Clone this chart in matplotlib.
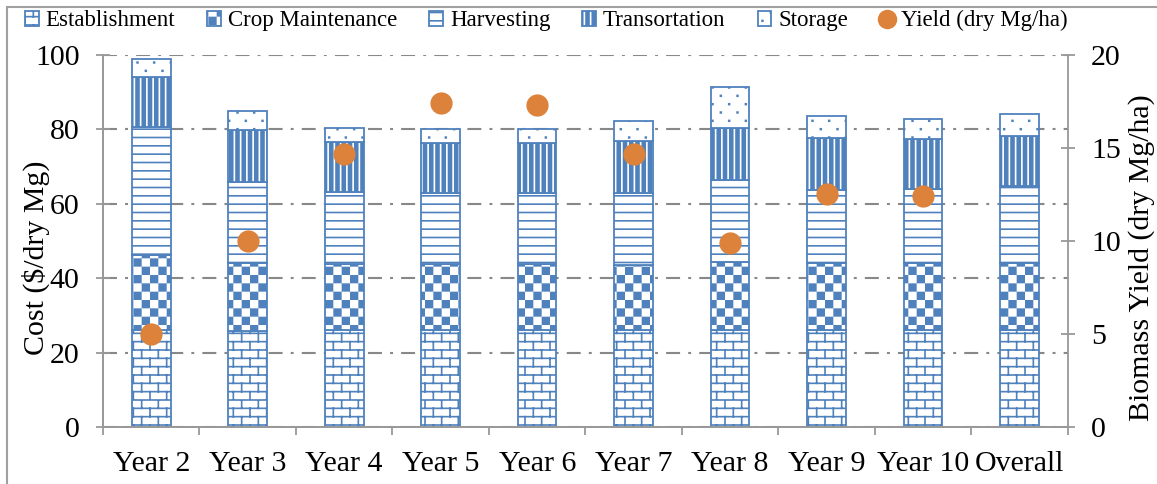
import numpy as np
import matplotlib
matplotlib.use("Agg")
import matplotlib.pyplot as plt
import matplotlib.hatch as mhatch
from matplotlib.path import Path
from matplotlib.patches import Patch, Rectangle
from matplotlib.lines import Line2D

# ---- data ----
categories = ['Year 2', 'Year 3', 'Year 4', 'Year 5', 'Year 6',
              'Year 7', 'Year 8', 'Year 9', 'Year 10', 'Overall']
establishment = [26.1, 25.9, 26.0, 26.0, 26.0, 26.0, 26.0, 26.0, 26.0, 26.0]
crop_maint = [20.1, 18.1, 17.8, 17.8, 17.9, 17.5, 18.4, 18.2, 18.2, 18.2]
harvesting = [34.4, 21.9, 19.5, 19.0, 18.9, 19.5, 22.0, 19.5, 19.7, 20.6]
transport = [13.4, 13.9, 13.2, 13.6, 13.6, 13.9, 13.9, 13.9, 13.5, 13.4]
storage = [4.9, 5.2, 4.0, 3.6, 3.6, 5.4, 11.2, 6.0, 5.3, 5.9]
yield_cats = categories[:9]
yield_vals = [5.0, 10.0, 14.7, 17.4, 17.3, 14.7, 9.9, 12.5, 12.4]

BLUE = '#4f81bd'
ORANGE = '#dc823b'
GRID = '#888888'
SPINE = '#999999'
HLW = 1.2  # hatch line width (pt)


# ---- excel-like fill patterns as extra hatch types ----
class BrickHatch(mhatch.HatchPatternBase):
    # 'o' -> brick wall
    def __init__(self, hatch, density):
        n = hatch.count('o')
        self.rows = 12 * n
        self.cols = self.rows // 2
        if self.rows:
            self.num_vertices = (self.rows + 1) * 2 + \
                (self.rows // 2) * (self.cols + 1) * 2 + (self.rows // 2) * self.cols * 2
        else:
            self.num_vertices = 0

    def set_vertices_and_codes(self, vertices, codes):
        h = 1.0 / self.rows
        w = 1.0 / self.cols
        pts = []
        for k in range(self.rows + 1):
            pts += [(0.0, k * h), (1.0, k * h)]
        for k in range(self.rows):
            if k % 2 == 0:
                xs = [j * w for j in range(self.cols + 1)]
            else:
                xs = [j * w + w / 2 for j in range(self.cols)]
            for x in xs:
                pts += [(x, k * h), (x, (k + 1) * h)]
        vertices[:] = pts
        codes[0::2] = Path.MOVETO
        codes[1::2] = Path.LINETO


class CheckerHatch(mhatch.HatchPatternBase):
    # 'O' -> checkerboard
    def __init__(self, hatch, density):
        self.n = 12 * hatch.count('O')
        self.num_vertices = (self.n * self.n // 2) * 5

    def set_vertices_and_codes(self, vertices, codes):
        n = self.n
        s = 1.0 / n
        d = HLW / 72.0 / 2
        pts, cds = [], []
        for i in range(n):
            for j in range(n):
                if (i + j) % 2:
                    continue
                x0, y0 = i * s + d, j * s + d
                x1, y1 = (i + 1) * s - d, (j + 1) * s - d
                pts += [(x0, y0), (x1, y0), (x1, y1), (x0, y1), (x0, y0)]
                cds += [Path.MOVETO, Path.LINETO, Path.LINETO, Path.LINETO, Path.CLOSEPOLY]
        vertices[:] = pts
        codes[:] = cds


class DotHatch(mhatch.HatchPatternBase):
    # '*' -> sparse staggered dots
    def __init__(self, hatch, density):
        n = hatch.count('*')
        self.rows = 12 * n
        self.cols = 6 * n
        self.num_vertices = self.rows * self.cols * 5

    def set_vertices_and_codes(self, vertices, codes):
        r = 0.004
        pts, cds = [], []
        for k in range(self.rows):
            cy = (k + 0.5) / self.rows
            for j in range(self.cols):
                cx = (j + 0.25 + 0.5 * (k % 2)) / self.cols
                pts += [(cx - r, cy - r), (cx + r, cy - r), (cx + r, cy + r),
                        (cx - r, cy + r), (cx - r, cy - r)]
                cds += [Path.MOVETO, Path.LINETO, Path.LINETO, Path.LINETO, Path.CLOSEPOLY]
        vertices[:] = pts
        codes[:] = cds


class StripeHatch(mhatch.HatchPatternBase):
    # '|' -> vertical stripes, 8 per char per inch
    def __init__(self, hatch, density):
        self.num_lines = 8 * hatch.count('|')
        self.num_vertices = self.num_lines * 2

    def set_vertices_and_codes(self, vertices, codes):
        steps = (np.arange(self.num_lines) + 0.5) / self.num_lines
        vertices[0::2, 0] = steps
        vertices[0::2, 1] = 0.0
        vertices[1::2, 0] = steps
        vertices[1::2, 1] = 1.0
        codes[0::2] = Path.MOVETO
        codes[1::2] = Path.LINETO


mhatch._hatch_types = [mhatch.HorizontalHatch, StripeHatch, mhatch.NorthEastHatch,
                       mhatch.SouthEastHatch, mhatch.SmallFilledCircles,
                       BrickHatch, CheckerHatch, DotHatch]

plt.rcParams['font.family'] = ['Liberation Serif', 'DejaVu Serif']
plt.rcParams['hatch.linewidth'] = HLW

fig = plt.figure(figsize=(11.57, 4.84), dpi=100)
ax = fig.add_axes([0.089, 0.1178, 0.834, 0.7686])
ax2 = ax.twinx()

x = np.arange(len(categories))
w = 0.4
lw = 1.3

b1 = np.array(establishment)
b2 = b1 + np.array(crop_maint)
b3 = b2 + np.array(harvesting)
b4 = b3 + np.array(transport)

ax.bar(x, establishment, w, color='white', edgecolor=BLUE, hatch='o', linewidth=lw, zorder=2)
ax.bar(x, crop_maint, w, bottom=b1, color='white', edgecolor=BLUE, hatch='O', linewidth=lw, zorder=2)
ax.bar(x, harvesting, w, bottom=b2, color='white', edgecolor=BLUE, hatch='--', linewidth=lw, zorder=2)
ax.bar(x, transport, w, bottom=b3, color=BLUE, edgecolor='white', hatch='||', linewidth=0, zorder=2)
ax.bar(x, transport, w, bottom=b3, fill=False, edgecolor=BLUE, linewidth=lw, zorder=2)
ax.bar(x, storage, w, bottom=b4, color='white', edgecolor=BLUE, hatch='*', linewidth=lw, zorder=2)

ax2.plot(np.arange(len(yield_cats)), yield_vals, linestyle='none', marker='o',
         ms=15, color=ORANGE, zorder=3)

ax.set_xlim(-0.5, len(categories) - 0.5)
ax.set_ylim(0, 100)
ax2.set_ylim(0, 20)
ax.set_yticks(range(0, 101, 20))
ax2.set_yticks(range(0, 21, 5))
ax.set_xticks(x, categories)
ax.set_xticks(np.arange(-0.5, len(categories), 1), minor=True)

ax.yaxis.grid(True, linestyle=(0, (6.7, 3.9, 1.4, 3.9)), color=GRID, linewidth=1.5)
ax.set_axisbelow(True)

ax.tick_params(axis='x', which='major', length=0, labelsize=21.5, pad=17)
ax.tick_params(axis='x', which='minor', length=6, width=1.3, color=SPINE, direction='out')
ax.tick_params(axis='y', direction='inout', length=9.5, width=1.3, color=SPINE,
               labelsize=21.5, pad=12)
ax2.tick_params(axis='y', direction='inout', length=9.5, width=1.3, color=SPINE,
                labelsize=21.5, pad=12)

for a in (ax, ax2):
    a.spines['top'].set_visible(False)
    for s in ('left', 'right', 'bottom'):
        a.spines[s].set_color(SPINE)
        a.spines[s].set_linewidth(1.3)
ax.spines['right'].set_visible(False)

ax.set_ylabel('Cost ($/dry Mg)', fontsize=21.5, va='center')
ax.yaxis.set_label_coords(-0.07, 0.455)
ax2.set_ylabel('Biomass Yield (dry Mg/ha)', fontsize=21.5, rotation=90, va='center')
ax2.yaxis.set_label_coords(1.0765, 0.455)

handles = [
    Patch(facecolor='white', edgecolor=BLUE, hatch='o', linewidth=lw),
    Patch(facecolor='white', edgecolor=BLUE, hatch='O', linewidth=lw),
    Patch(facecolor='white', edgecolor=BLUE, hatch='--', linewidth=lw),
    (Patch(facecolor=BLUE, edgecolor='white', hatch='||', linewidth=0),
     Patch(fill=False, edgecolor=BLUE, linewidth=lw)),
    Patch(facecolor='white', edgecolor=BLUE, hatch='*', linewidth=lw),
    Line2D([], [], linestyle='none', marker='o', ms=13, color=ORANGE),
]
labels = ['Establishment', 'Crop Maintenance', 'Harvesting', 'Transortation',
          'Storage', 'Yield (dry Mg/ha)']
fig.legend(handles, labels, loc='center', bbox_to_anchor=(0.472, 0.957), ncol=6,
           frameon=False, fontsize=16.5, handlelength=0.6, handleheight=0.6,
           handletextpad=0.3, columnspacing=1.4, borderaxespad=0)

# light frame around the chart area
fig.patches.append(Rectangle((7 / 1157, -0.1), 1.2, 1.1 - 7 / 484, transform=fig.transFigure,
                             fill=False, edgecolor='#a0a0a0', linewidth=1.5))

fig.savefig('out.png', dpi=100)
